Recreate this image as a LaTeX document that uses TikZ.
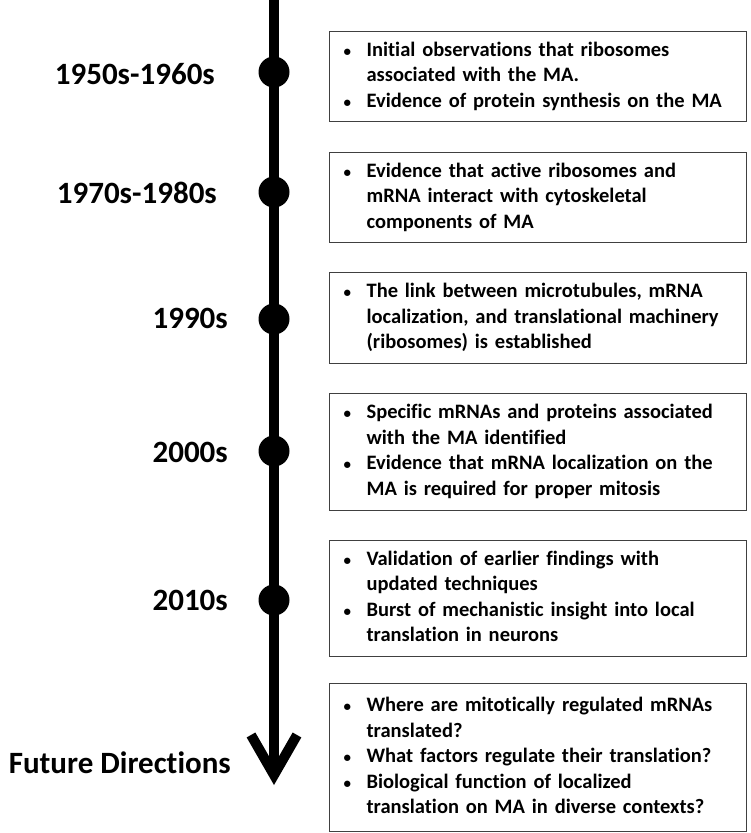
\documentclass[tikz,border=0pt]{standalone}
\usepackage{fontspec}
\setmainfont[Ligatures=NoCommon]{Carlito}
\usetikzlibrary{arrows.meta,positioning}

\newcommand{\bul}{{\fontsize{15}{15}\selectfont\textbullet}}

\begin{document}
\begin{tikzpicture}[x=1pt,y=-1pt,
    yearlabel/.style={font=\fontsize{31}{36}\selectfont\bfseries, anchor=east, inner sep=0pt},
    eventbox/.style={rectangle, draw=black!75, line width=1.2pt, anchor=north west, text width=389pt,
        inner xsep=14pt, inner ysep=0pt, align=left, font=\fontsize{20.5}{25.5}\selectfont\bfseries},
    timedot/.style={circle, fill=black, minimum size=31pt, inner sep=0pt}]
    \useasboundingbox (0,0) rectangle (750,833);

    % Timeline
    \coordinate (start) at (274,0);
    \coordinate (finish) at (274,785);
    \draw[line width=10pt, -{Straight Barb[length=40pt,width=46pt]}] (start) -- (finish);

    % Dots
    \node[timedot] (d1) at (274,72) {};
    \node[timedot] (d2) at (274,192) {};
    \node[timedot] (d3) at (274,319) {};
    \node[timedot] (d4) at (274,451) {};
    \node[timedot] (d5) at (274,600) {};

    % Years
    \node[yearlabel] (y1) at (215,74) {1950s-1960s};
    \node[yearlabel] (y2) at (217,193) {1970s-1980s};
    \node[yearlabel] (y3) at (228,318) {1990s};
    \node[yearlabel] (y4) at (228,452) {2000s};
    \node[yearlabel] (y5) at (228,600) {2010s};
    \node[yearlabel] (y6) at (231,763) {Future Directions};

    % Events
    \node[eventbox, minimum height=90pt] (b1) at (329,31) {\begin{tabular}{@{}p{23pt}@{}l@{}}
        \bul & Initial observations that ribosomes\\
        & associated with the MA.\\
        \bul & Evidence of protein synthesis on the MA
    \end{tabular}};
    \node[eventbox, minimum height=90pt] (b2) at (329,152) {\begin{tabular}{@{}p{23pt}@{}l@{}}
        \bul & Evidence that active ribosomes and\\
        & mRNA interact with cytoskeletal\\
        & components of MA
    \end{tabular}};
    \node[eventbox, minimum height=91pt] (b3) at (329,272) {\begin{tabular}{@{}p{23pt}@{}l@{}}
        \bul & The link between microtubules, mRNA\\
        & localization, and translational machinery\\
        & (ribosomes) is established
    \end{tabular}};
    \node[eventbox, minimum height=117pt] (b4) at (329,393) {\begin{tabular}{@{}p{23pt}@{}l@{}}
        \bul & Specific mRNAs and proteins associated\\
        & with the MA identified\\
        \bul & Evidence that mRNA localization on the\\
        & MA is required for proper mitosis
    \end{tabular}};
    \node[eventbox, minimum height=116pt] (b5) at (329,540) {\begin{tabular}{@{}p{23pt}@{}l@{}}
        \bul & Validation of earlier findings with\\
        & updated techniques\\
        \bul & Burst of mechanistic insight into local\\
        & translation in neurons
    \end{tabular}};
    \node[eventbox, minimum height=148pt] (b6) at (329,683) {\begin{tabular}{@{}p{23pt}@{}l@{}}
        \bul & Where are mitotically regulated mRNAs\\
        & translated?\\
        \bul & What factors regulate their translation?\\
        \bul & Biological function of localized\\
        & translation on MA in diverse contexts?
    \end{tabular}};
\end{tikzpicture}
\end{document}
